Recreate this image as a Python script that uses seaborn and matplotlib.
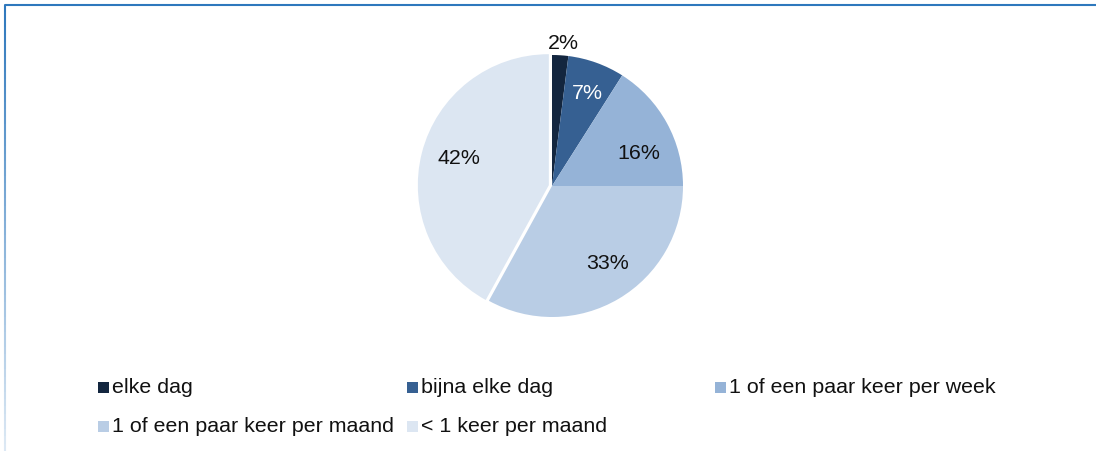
import numpy as np
import matplotlib
matplotlib.use("Agg")
import matplotlib.pyplot as plt
import seaborn as sns
from matplotlib.patches import Rectangle
from matplotlib.collections import LineCollection

categories = ["elke dag", "bijna elke dag", "1 of een paar keer per week",
              "1 of een paar keer per maand", "< 1 keer per maand"]
values = [2, 7, 16, 33, 42]
colors = ["#13263F", "#366092", "#95B3D7", "#B9CDE5", "#DCE6F2"]

sns.set_theme(style="white")
plt.rcParams["font.family"] = ["Liberation Sans", "DejaVu Sans"]

W, H = 1096, 452
FS = 15.4
fig = plt.figure(figsize=(W / 100, H / 100), dpi=100)

# pie axes: center (552,187) px, radius 131 px
cx, cy, r = 552, 187, 131
ax = fig.add_axes([(cx - r) / W, (H - cy - r) / H, 2 * r / W, 2 * r / H])
explode = [0, 0, 0, 0, 0.025]
wedges, texts, autotexts = ax.pie(
    values, colors=colors, startangle=90, counterclock=False,
    explode=explode, autopct=lambda p: f"{p:.0f}%", pctdistance=0.72,
    wedgeprops=dict(linewidth=0), textprops=dict(fontsize=FS, color="#111111"))
ax.set_xlim(-1, 1)
ax.set_ylim(-1, 1)
ax.set_aspect("equal")
ax.axis("off")

# 2% label outside, 7% label white
t0 = autotexts[0]
x0, y0 = t0.get_position()
ang = np.arctan2(y0, x0)
t0.set_position((1.11 * np.cos(ang) + 0.03, 1.11 * np.sin(ang)))
autotexts[1].set_color("white")

# fine label nudges (pixels: right, up) to mimic Excel's placement
nudges = [(-2, -2), (3, 5), (4, -12), (8, 5), (1, 4)]
for t, (dx, dy) in zip(autotexts, nudges):
    x, y = t.get_position()
    t.set_position((x + dx / r, y + dy / r))

# legend entries placed manually (two rows, three columns)
legend_pos = [(98, 388), (407, 388), (715, 388), (98, 427), (407, 427)]
for (lx, ly), lab, col in zip(legend_pos, categories, colors):
    fig.patches.append(Rectangle((lx / W, (H - ly - 5.5) / H), 11 / W, 11 / H,
                                 transform=fig.transFigure, facecolor=col,
                                 edgecolor="none"))
    fig.text((lx + 14) / W, (H - ly) / H, lab, fontsize=FS, color="#111111",
             va="center", ha="left")

# frame: top line and fading left line
fig.add_artist(plt.Line2D([5 / W, 1], [(H - 6) / H, (H - 6) / H],
                          transform=fig.transFigure, color="#2E78BD", lw=1.5))
n = 60
ys = np.linspace((H - 6) / H, 0, n + 1)
segs = [[(5 / W, ys[i]), (5 / W, ys[i + 1])] for i in range(n)]
cols = [matplotlib.colors.to_rgba("#2E78BD", 1 - 0.85 * i / n) for i in range(n)]
lc = LineCollection(segs, colors=cols, linewidths=1.5, transform=fig.transFigure)
fig.add_artist(lc)

fig.savefig("out.png", dpi=100, facecolor="white")
